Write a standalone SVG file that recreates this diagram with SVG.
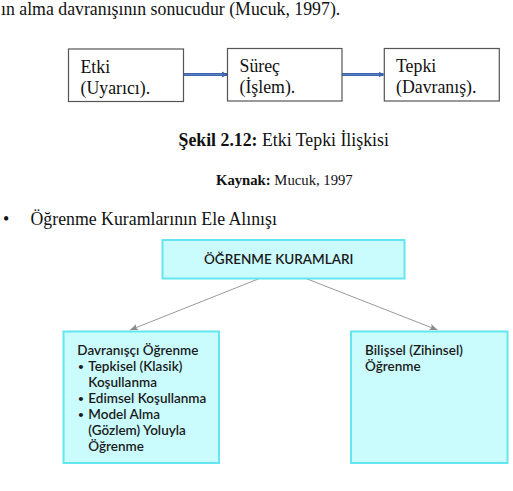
<svg xmlns="http://www.w3.org/2000/svg" width="513" height="491" viewBox="0 0 513 491">
<defs>
<style>
.serif{font-family:"Liberation Serif","Times New Roman",serif;fill:#111;}
.box{fill:#fff;stroke:#555;stroke-width:1.2;}
.cbox{fill:#cbfcfd;stroke:#63e6f0;stroke-width:2;}
.gill{font-family:Lato,"Open Sans",sans-serif;fill:#1a1a1a;font-size:13.5px;font-weight:600;}
.blue{stroke:#3d64ad;stroke-width:3.2;fill:none;}
.blue2{stroke:#5a7fc2;stroke-width:1;fill:none;}
.gray{stroke:#9a9a9a;stroke-width:1;fill:none;}
.dot{font-size:10px;}
</style>
<marker id="bh" markerWidth="6" markerHeight="7" refX="5" refY="3.5" orient="auto" markerUnits="userSpaceOnUse">
<path d="M0,0.5 L5.5,3.5 L0,6.5 Z" fill="#3d64ad"/>
</marker>
<marker id="gh" markerWidth="10" markerHeight="8" refX="8" refY="4" orient="auto" markerUnits="userSpaceOnUse">
<path d="M0,0.8 L8,4 L0,7.2 L1.8,4 Z" fill="#8a8a8a"/>
</marker>
</defs>

<text class="serif" x="1" y="14.5" font-size="17.8">ın alma davranışının sonucudur (Mucuk, 1997).</text>

<g id="connectors">
<line class="blue" x1="183.5" y1="74.5" x2="227" y2="74.5" marker-end="url(#bh)"/>
<line class="blue2" x1="183.5" y1="74.5" x2="223" y2="74.5"/>
<line class="blue" x1="340" y1="74.5" x2="383.5" y2="74.5" marker-end="url(#bh)"/>
<line class="blue2" x1="340" y1="74.5" x2="379.5" y2="74.5"/>
<line class="gray" x1="259.5" y1="278.5" x2="130" y2="330" marker-end="url(#gh)"/>
<line class="gray" x1="306" y1="278.5" x2="437.5" y2="330" marker-end="url(#gh)"/>
</g>

<g id="etki">
<rect class="box" x="68.5" y="49" width="115" height="52.5"/>
<text class="serif" font-size="17.8"><tspan x="80.5" y="72.5">Etki</tspan><tspan x="80.5" y="93.5">(Uyarıcı).</tspan></text>
</g>
<g id="surec">
<rect class="box" x="227.5" y="48.5" width="114.5" height="52.5"/>
<text class="serif" font-size="17.8"><tspan x="239.5" y="71.5">Süreç</tspan><tspan x="239.5" y="92.5">(İşlem).</tspan></text>
</g>
<g id="tepki">
<rect class="box" x="384.3" y="48.5" width="115" height="52.5"/>
<text class="serif" font-size="17.8"><tspan x="396" y="71.5">Tepki</tspan><tspan x="396" y="92.5">(Davranış).</tspan></text>
</g>

<text class="serif" x="178.5" y="146" font-size="17.8"><tspan font-weight="bold">Şekil 2.12:</tspan> Etki Tepki İlişkisi</text>
<text class="serif" x="216" y="184.5" font-size="14.7"><tspan font-weight="bold">Kaynak:</tspan> Mucuk, 1997</text>
<text class="serif" x="3" y="224.5" font-size="17.8">•</text>
<text class="serif" x="30.5" y="224.5" font-size="17.8">Öğrenme Kuramlarının Ele Alınışı</text>

<g id="ogrenme-kuramlari">
<rect class="cbox" x="162.5" y="240" width="242" height="38.5"/>
<text class="gill" x="278.7" y="264" text-anchor="middle" font-size="13.7">ÖĞRENME KURAMLARI</text>
</g>

<g id="davranisci">
<rect class="cbox" x="63.5" y="331.5" width="155.5" height="131.5"/>
<text class="gill">
<tspan x="77.3" y="355">Davranışçı Öğrenme</tspan>
<tspan class="dot" x="78" y="369.5">•</tspan><tspan x="88.3" y="370.7">Tepkisel (Klasik)</tspan>
<tspan x="88.3" y="386.7">Koşullanma</tspan>
<tspan class="dot" x="78" y="401.5">•</tspan><tspan x="88.3" y="402.7">Edimsel Koşullanma</tspan>
<tspan class="dot" x="78" y="417.5">•</tspan><tspan x="88.3" y="418.7">Model Alma</tspan>
<tspan x="88.3" y="434.7">(Gözlem) Yoluyla</tspan>
<tspan x="88.3" y="450.7">Öğrenme</tspan>
</text>
</g>

<g id="bilissel">
<rect class="cbox" x="351" y="331.5" width="156.5" height="131.5"/>
<text class="gill"><tspan x="365" y="355">Bilişsel (Zihinsel)</tspan><tspan x="365" y="371">Öğrenme</tspan></text>
</g>
</svg>
